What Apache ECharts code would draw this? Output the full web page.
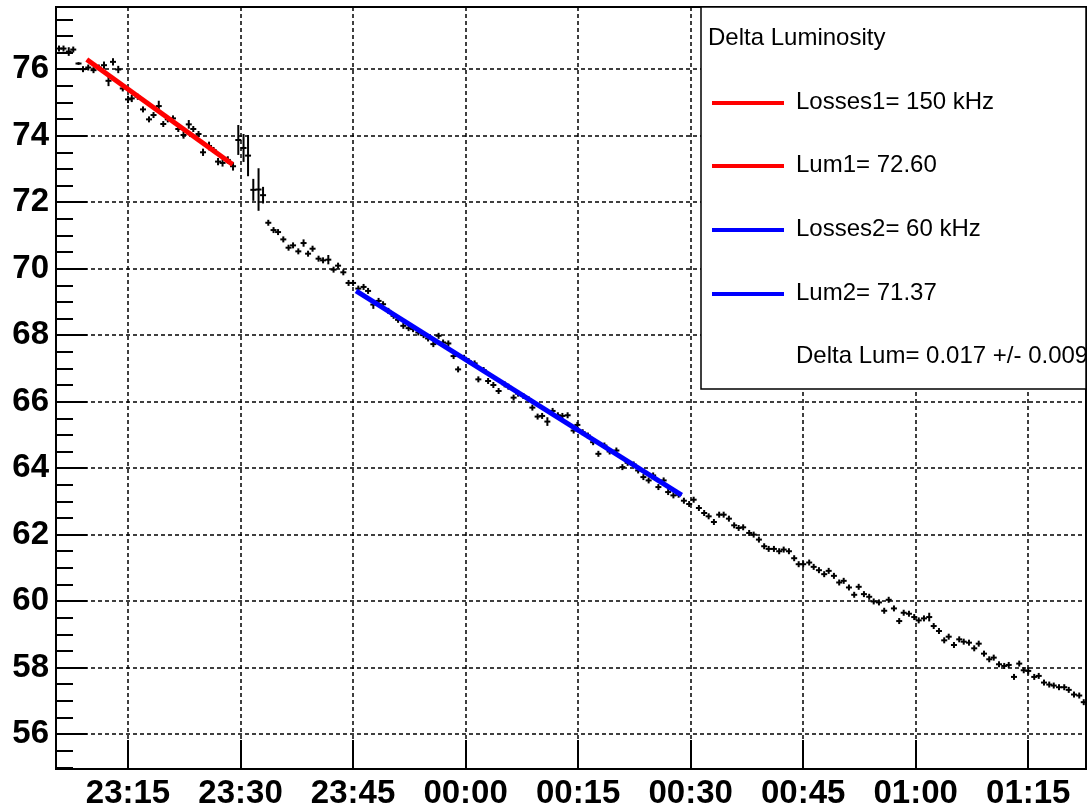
<!DOCTYPE html>
<html>
<head>
<meta charset="utf-8">
<script src="https://cdn.jsdelivr.net/npm/echarts@6.0.0/dist/echarts.min.js"></script>
<style>
  html, body { margin: 0; padding: 0; background: #fff; }
  #main { width: 1087px; height: 810px; }
</style>
</head>
<body>
<div id="main"></div>
<script>
// time in minutes after 23:00
const times = [
  5.8, 6.4, 7.1, 7.7, 8.4, 9.0, 9.7, 10.4, 11.1, 11.8,
  12.4, 13.0, 13.7, 14.3, 15.0, 15.5, 16.3, 17.0, 17.8, 18.4,
  19.1, 19.7, 20.3, 21.0, 21.7, 22.4, 23.1, 23.7, 24.4, 25.0,
  25.8, 26.4, 27.0, 27.6, 28.3, 29.0, 29.7, 30.4, 31.0, 31.7,
  32.4, 33.0, 33.7, 34.4, 35.0, 35.7, 36.4, 37.0, 37.7, 38.4,
  39.0, 39.6, 40.4, 41.0, 41.7, 42.4, 43.0, 43.7, 44.4, 45.0,
  45.7, 46.4, 47.0, 47.7, 48.4, 49.0, 49.7, 50.4, 51.0, 51.7,
  52.4, 53.0, 53.7, 54.4, 55.0, 55.7, 56.4, 57.0, 57.7, 58.4,
  59.0, 59.8, 60.4, 61.2, 61.7, 62.4, 63.0, 63.7, 64.4, 65.2,
  65.7, 66.4, 67.0, 67.7, 68.4, 68.9, 69.6, 70.2, 70.9, 71.6,
  72.3, 72.9, 73.6, 74.4, 74.9, 75.6, 76.3, 77.0, 77.7, 78.5,
  79.2, 80.1, 80.9, 81.6, 82.4, 83.0, 83.7, 84.4, 85.0, 85.7,
  86.4, 87.0, 87.7, 88.4, 89.1, 89.8, 90.4, 91.1, 91.8, 92.4,
  93.1, 93.8, 94.4, 95.1, 95.8, 96.4, 97.0, 97.8, 98.4, 99.1,
  99.8, 100.4, 101.1, 101.8, 102.4, 103.1, 103.8, 104.4, 105.0, 105.8,
  106.4, 107.1, 107.8, 108.4, 109.1, 109.8, 110.4, 111.1, 111.8, 112.4,
  113.1, 113.8, 114.4, 115.1, 115.8, 116.4, 117.1, 117.8, 118.4, 119.1,
  119.8, 120.4, 121.1, 121.8, 122.4, 123.1, 123.8, 124.4, 125.1, 125.8,
  126.4, 127.1, 127.8, 128.4, 129.1, 129.8, 130.4, 131.1, 131.8, 132.4,
  133.1, 133.8, 134.4, 135.0, 135.8, 136.4, 137.1, 137.8, 138.4, 139.1,
  139.8, 140.4, 141.1, 141.8, 142.4
]

const lumi = [
  76.62, 76.62, 76.53, 76.59, 76.17, 76.00, 76.05, 75.97, 76.05, 76.12,
  75.65, 76.22, 75.99, 75.42, 75.09, 75.12, 75.17, 74.79, 74.49, 74.62,
  74.89, 74.35, 74.49, 74.52, 74.20, 74.02, 74.34, 74.20, 74.05, 73.50,
  73.69, 73.57, 73.22, 73.18, 73.27, 73.08, 73.87, 73.63, 73.40, 72.37,
  72.38, 72.21, 71.38, 71.16, 71.10, 70.88, 70.63, 70.70, 70.52, 70.77,
  70.45, 70.60, 70.30, 70.25, 70.27, 69.97, 70.09, 69.89, 69.57, 69.57,
  69.40, 69.45, 69.33, 68.92, 69.03, 68.93, 68.73, 68.58, 68.46, 68.28,
  68.21, 68.18, 68.08, 68.00, 67.90, 67.73, 67.98, 67.78, 67.75, 67.37,
  66.97, 67.32, 67.22, 67.15, 66.67, 66.95, 66.62, 66.50, 66.32, 66.52,
  66.45, 66.12, 66.24, 66.17, 66.07, 65.82, 65.55, 65.57, 65.40, 65.72,
  65.59, 65.57, 65.59, 65.13, 65.30, 65.08, 64.98, 64.78, 64.43, 64.68,
  64.50, 64.53, 64.03, 64.16, 64.11, 63.93, 63.73, 63.63, 63.78, 63.43,
  63.63, 63.28, 63.18, 63.20, 63.02, 62.92, 63.05, 62.80, 62.65, 62.55,
  62.38, 62.60, 62.60, 62.48, 62.28, 62.20, 62.22, 62.05, 62.00, 61.85,
  61.65, 61.57, 61.57, 61.50, 61.55, 61.50, 61.29, 61.11, 61.11, 61.16,
  61.03, 60.93, 60.81, 60.91, 60.76, 60.56, 60.61, 60.41, 60.19, 60.43,
  60.21, 60.13, 59.99, 59.96, 59.71, 60.04, 59.78, 59.40, 59.65, 59.62,
  59.52, 59.42, 59.48, 59.52, 59.25, 59.10, 58.82, 58.93, 58.68, 58.85,
  58.78, 58.75, 58.58, 58.72, 58.42, 58.25, 58.30, 58.10, 58.05, 58.08,
  57.72, 58.12, 57.92, 57.90, 57.72, 57.75, 57.55, 57.49, 57.46, 57.41,
  57.41, 57.33, 57.19, 57.16, 56.96
]

const lumiErr = [
  0.09, 0.09, 0.13, 0.09, 0.04, 0.09, 0.09, 0.09, 0.09, 0.11,
  0.16, 0.11, 0.11, 0.09, 0.11, 0.11, 0.09, 0.09, 0.09, 0.09,
  0.16, 0.09, 0.09, 0.09, 0.09, 0.11, 0.13, 0.09, 0.09, 0.11,
  0.13, 0.09, 0.11, 0.11, 0.11, 0.13, 0.45, 0.42, 0.62, 0.33,
  0.64, 0.25, 0.09, 0.09, 0.09, 0.09, 0.09, 0.09, 0.09, 0.11,
  0.09, 0.09, 0.09, 0.09, 0.14, 0.09, 0.09, 0.09, 0.09, 0.09,
  0.09, 0.09, 0.09, 0.13, 0.09, 0.09, 0.09, 0.09, 0.09, 0.09,
  0.09, 0.09, 0.09, 0.09, 0.09, 0.09, 0.09, 0.09, 0.09, 0.09,
  0.09, 0.09, 0.09, 0.09, 0.09, 0.09, 0.09, 0.09, 0.09, 0.09,
  0.09, 0.09, 0.09, 0.09, 0.09, 0.09, 0.09, 0.09, 0.13, 0.09,
  0.09, 0.09, 0.09, 0.09, 0.09, 0.09, 0.09, 0.09, 0.09, 0.09,
  0.09, 0.09, 0.09, 0.09, 0.09, 0.09, 0.09, 0.09, 0.09, 0.09,
  0.09, 0.09, 0.09, 0.09, 0.09, 0.09, 0.09, 0.09, 0.09, 0.09,
  0.09, 0.09, 0.09, 0.09, 0.09, 0.09, 0.09, 0.09, 0.09, 0.09,
  0.09, 0.09, 0.09, 0.09, 0.09, 0.09, 0.09, 0.09, 0.09, 0.09,
  0.09, 0.09, 0.09, 0.09, 0.09, 0.09, 0.09, 0.09, 0.09, 0.09,
  0.09, 0.09, 0.09, 0.09, 0.09, 0.09, 0.09, 0.09, 0.09, 0.09,
  0.09, 0.09, 0.09, 0.13, 0.09, 0.09, 0.09, 0.09, 0.09, 0.09,
  0.09, 0.09, 0.09, 0.09, 0.09, 0.09, 0.09, 0.09, 0.09, 0.09,
  0.09, 0.09, 0.09, 0.11, 0.09, 0.09, 0.09, 0.09, 0.09, 0.09,
  0.09, 0.09, 0.09, 0.09, 0.09
]
const binHalf = 0.4

// fitted lines (start / end)
const fit1T = [9.5, 28.95]
const fit1V = [76.29, 73.13]
const fit2T = [45.4, 88.8]
const fit2V = [69.33, 63.19]

const xTicks = [15, 30, 45, 60, 75, 90, 105, 120, 135]
const yTicks = [56, 58, 60, 62, 64, 66, 68, 70, 72, 74, 76]
const yMinorTicks = []
for (let v = 55; v <= 77.5; v += 0.5) yMinorTicks.push(v)

const legendTitle = 'Delta Luminosity'
const legendNames = ['Losses1= 150 kHz', 'Lum1= 72.60', 'Losses2= 60 kHz', 'Lum2= 71.37']
const legendColors = ['#ff0000', '#ff0000', '#0000ff', '#0000ff']
const legendFoot = 'Delta Lum= 0.017 +/- 0.009'

const X_MIN = 5.4, X_MAX = 142.7
const Y_MIN = 54.95, Y_MAX = 77.87
const FONT = "'Liberation Sans', Arial, Helvetica, sans-serif"

function fmtTime(t) {
    let h = (23 + Math.floor(t / 60)) % 24
    let m = Math.round(t % 60)
    return (h < 10 ? '0' : '') + h + ':' + (m < 10 ? '0' : '') + m
}

let points = []
for (let i = 0; i < times.length; i++) points.push([times[i], lumi[i], lumiErr[i]])

// legend box, drawn on top of the grid lines
let legendEls = [{
    type: 'rect',
    z: 100,
    shape: { x: 701, y: 7, width: 385, height: 382 },
    style: { fill: '#fff', stroke: '#000', lineWidth: 1.5 }
}, {
    type: 'text',
    z: 101,
    style: { x: 708, y: 38, text: legendTitle, fill: '#000', font: '24px ' + FONT, verticalAlign: 'middle' }
}]
let rowY = [102, 165, 229, 293]
legendNames.forEach((name, i) => {
    legendEls.push({
        type: 'line',
        z: 101,
        shape: { x1: 712, y1: rowY[i] + 1, x2: 784, y2: rowY[i] + 1 },
        style: { stroke: legendColors[i], lineWidth: 4 }
    })
    legendEls.push({
        type: 'text',
        z: 101,
        style: { x: 796, y: rowY[i], text: name, fill: '#000', font: '24px ' + FONT, verticalAlign: 'middle' }
    })
})
legendEls.push({
    type: 'text',
    z: 101,
    style: { x: 796, y: 356, text: legendFoot, fill: '#000', font: '24px ' + FONT, verticalAlign: 'middle' }
})

let myChart = echarts.init(document.getElementById('main'))
let option = {
    animation: false,
    backgroundColor: '#fff',
    grid: {
        left: 56, right: 1, top: 7, bottom: 38,
        show: true, borderColor: '#000', borderWidth: 2
    },
    xAxis: {
        type: 'value',
        min: X_MIN, max: X_MAX,
        axisLine: { lineStyle: { color: '#000', width: 2 } },
        axisTick: { inside: true, length: 29, customValues: xTicks, lineStyle: { color: '#000', width: 2 } },
        axisLabel: {
            customValues: xTicks,
            formatter: fmtTime,
            color: '#000', fontWeight: 'bold', fontSize: 33, fontFamily: FONT, margin: 8
        },
        splitLine: { show: true, lineStyle: { color: '#000', width: 1.5, type: [4, 3] } }
    },
    yAxis: [{
        type: 'value',
        min: Y_MIN, max: Y_MAX,
        axisLine: { show: true, lineStyle: { color: '#000', width: 2 } },
        axisTick: { show: true, inside: true, length: 31, customValues: yTicks, lineStyle: { color: '#000', width: 2 } },
        axisLabel: {
            customValues: yTicks,
            color: '#000', fontWeight: 'bold', fontSize: 33, fontFamily: FONT, margin: 7,
            padding: [0, 0, 5, 0]
        },
        splitLine: { show: true, lineStyle: { color: '#000', width: 1.5, type: [4, 3] } }
    }, {
        type: 'value',
        position: 'left',
        min: Y_MIN, max: Y_MAX,
        axisLine: { show: false },
        axisTick: { show: true, inside: true, length: 17, customValues: yMinorTicks, lineStyle: { color: '#000', width: 2 } },
        axisLabel: { show: false },
        splitLine: { show: false }
    }],
    graphic: [{ type: 'group', z: 100, children: legendEls }],
    series: [{
        type: 'custom',
        name: 'lumi',
        data: points,
        encode: { x: 0, y: 1 },
        clip: true,
        renderItem: function (params, api) {
            let t = api.value(0), v = api.value(1), e = api.value(2)
            let l = api.coord([t - binHalf, v])
            let r = api.coord([t + binHalf, v])
            let top = api.coord([t, v + e])
            let bot = api.coord([t, v - e])
            let st = { stroke: '#000', lineWidth: 2 }
            return {
                type: 'group',
                children: [
                    { type: 'line', shape: { x1: l[0], y1: l[1], x2: r[0], y2: r[1] }, style: st },
                    { type: 'line', shape: { x1: top[0], y1: top[1], x2: bot[0], y2: bot[1] }, style: st }
                ]
            }
        }
    }, {
        type: 'line',
        data: fit1T.map((t, i) => [t, fit1V[i]]),
        showSymbol: false,
        lineStyle: { color: '#ff0000', width: 5 },
        z: 5
    }, {
        type: 'line',
        data: fit2T.map((t, i) => [t, fit2V[i]]),
        showSymbol: false,
        lineStyle: { color: '#0000ff', width: 5 },
        z: 5
    }]
}
myChart.setOption(option)
</script>
</body>
</html>
